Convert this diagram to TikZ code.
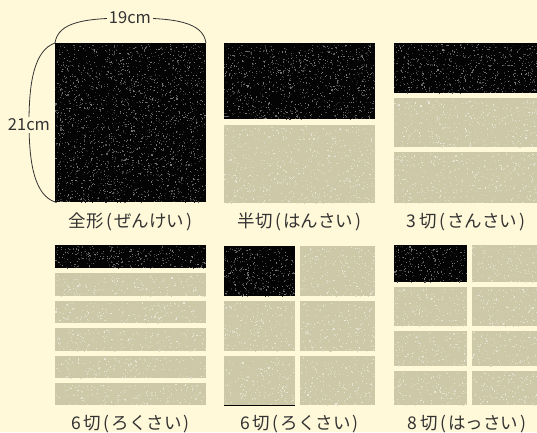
\documentclass[tikz,border=0pt]{standalone}
\usepackage{fontspec}
\setmainfont{Noto Sans CJK JP}
\definecolor{bg}{HTML}{FFF9D9}
\definecolor{paper}{HTML}{CCC8A8}
\definecolor{sumi}{HTML}{040404}
\definecolor{ink}{HTML}{333333}
\newcommand\lp{\kern2.5pt(\kern2pt}
\newcommand\rp{\kern2pt)}
% #1 x1, #2 y1, #3 x2, #4 y2, #5 px per dot, #6 colour, #7 dot mix min, #8 dot mix range
\newcommand\speckrect[8]{%
  \fill[#6] (#1,#2) rectangle (#3,#4);
  \pgfmathtruncatemacro\nn{(#3-#1)/#5*(#4-#2)}%
  \foreach \k in {1,...,\nn}{%
    \pgfmathsetmacro\sx{#1+rnd*(#3-#1-1.1)}%
    \pgfmathsetmacro\sy{#2+1.1+rnd*(#4-#2-1.1)}%
    \pgfmathtruncatemacro\so{#7+#8*rnd}%
    \fill[white!\so!#6] (\sx,\sy) rectangle ++(1.1,1.1);
  }%
}
\begin{document}
\begin{tikzpicture}[x=1pt,y=-1pt,
  lbl/.style={font=\fontsize{17.5}{20}\selectfont, text=ink, inner sep=1pt},
  dim/.style={font=\fontsize{16.5}{19}\selectfont, text=ink, fill=bg, inner sep=1.5pt},
  brace/.style={draw=ink, line width=0.8pt}]
\pgfmathsetseed{1234}
\useasboundingbox (0,0) rectangle (537,432);
\clip (0,0) rectangle (537,432);
\fill[bg] (0,0) rectangle (537,432);

% full sheet
\speckrect{55}{43}{206}{202}{11}{sumi}{10}{40}
% half
\speckrect{224}{43}{375}{119}{11}{sumi}{10}{40}
\speckrect{224}{125}{375}{203}{18}{paper}{15}{45}
% thirds
\speckrect{394}{43}{545}{93}{11}{sumi}{10}{40}
\speckrect{394}{98}{545}{147}{18}{paper}{15}{45}
\speckrect{394}{152}{545}{203}{18}{paper}{15}{45}
% sixths strips
\speckrect{55}{245}{206}{268}{11}{sumi}{10}{40}
\speckrect{55}{273}{206}{296}{18}{paper}{15}{45}
\speckrect{55}{301}{206}{323}{18}{paper}{15}{45}
\speckrect{55}{328}{206}{351}{18}{paper}{15}{45}
\speckrect{55}{356}{206}{378}{18}{paper}{15}{45}
\speckrect{55}{383}{206}{405}{18}{paper}{15}{45}
% sixths grid
\speckrect{224}{246}{295}{296}{11}{sumi}{10}{40}
\speckrect{300}{246}{375}{296}{18}{paper}{15}{45}
\speckrect{224}{301}{295}{351}{18}{paper}{15}{45}
\speckrect{300}{301}{375}{351}{18}{paper}{15}{45}
\speckrect{224}{356}{295}{405}{18}{paper}{15}{45}
\speckrect{300}{356}{375}{405}{18}{paper}{15}{45}
\draw[sumi, line width=0.8pt] (224,405) -- (295,405);
% eighths grid
\speckrect{394}{245}{467}{282}{11}{sumi}{10}{40}
\speckrect{472}{245}{545}{282}{18}{paper}{15}{45}
\speckrect{394}{287}{467}{326}{18}{paper}{15}{45}
\speckrect{472}{287}{545}{326}{18}{paper}{15}{45}
\speckrect{394}{331}{467}{366}{18}{paper}{15}{45}
\speckrect{472}{331}{545}{366}{18}{paper}{15}{45}
\speckrect{394}{371}{467}{405}{18}{paper}{15}{45}
\speckrect{472}{371}{545}{405}{18}{paper}{15}{45}

% dimension braces
\coordinate (tl) at (55,43);
\coordinate (tr) at (206,43);
\coordinate (bl) at (55,202);
\draw[brace] (tl) .. controls (58,22) and (85,18) .. (130,18) .. controls (175,18) and (203,22) .. (tr);
\draw[brace] (tl) .. controls (35,50) and (29,80) .. (29,122) .. controls (29,165) and (35,195) .. (bl);
\node[dim] (w) at (130,18) {19cm};
\node[dim] (h) at (29,125) {21cm};

% labels
\node[lbl] (l1) at (130.5,222) {全形\lp ぜんけい\rp};
\node[lbl] (l2) at (299.5,222) {半切\lp はんさい\rp};
\node[lbl] (l3) at (466,222) {3\,切\lp さんさい\rp};
\node[lbl] (l4) at (130.5,424) {6\,切\lp ろくさい\rp};
\node[lbl] (l5) at (299.5,424) {6\,切\lp ろくさい\rp};
\node[lbl] (l6) at (467,424) {8\,切\lp はっさい\rp};
\end{tikzpicture}
\end{document}
